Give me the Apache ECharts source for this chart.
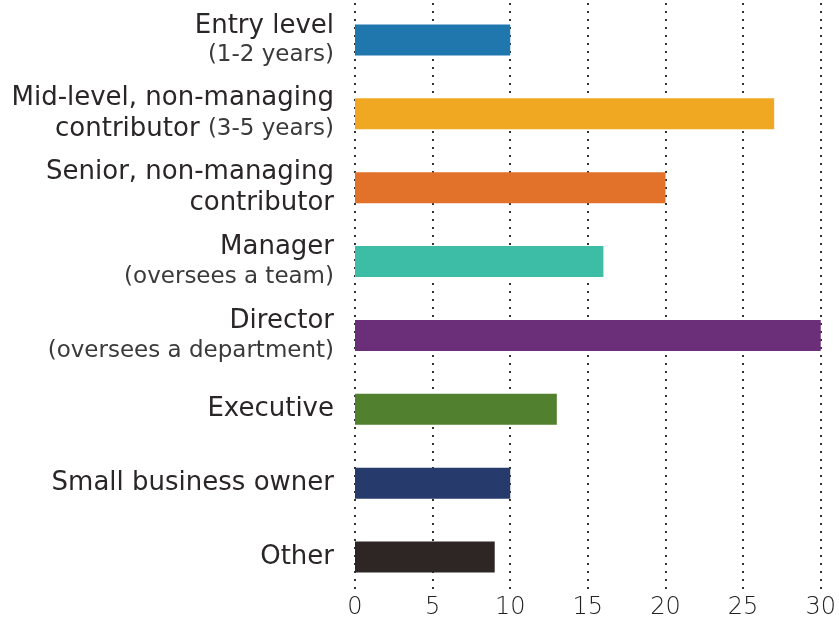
<!DOCTYPE html>
<html>
<head>
<meta charset="utf-8">
<script src="https://cdn.jsdelivr.net/npm/echarts@6/dist/echarts.min.js"></script>
<style>html,body{margin:0;padding:0;background:#fff;}#c{width:839px;height:620px;}</style>
</head>
<body>
<div id="c"></div>
<script>
const categories = [
  'Entry level\n(1-2 years)',
  'Mid-level, non-managing\ncontributor (3-5 years)',
  'Senior, non-managing\ncontributor',
  'Manager\n(oversees a team)',
  'Director\n(oversees a department)',
  'Executive',
  'Small business owner',
  'Other'
];
const values = [10, 27, 20, 16, 30, 13, 10, 9];
const colors = ['#1f77ae', '#f0a823', '#e2712a', '#3dbda6', '#6b2f79', '#51802f', '#263a6b', '#2e2624'];
const xTicks = [0, 5, 10, 15, 20, 25, 30];

function fmt(v) {
  return v.split('\n').map(line => {
    const parts = line.split(/(\([^)]*\))/).filter(p => p.length);
    return parts.map(p => p.startsWith('(') ? '{s|' + p + '}' : '{m|' + p + '}').join('');
  }).join('\n');
}

const chart = echarts.init(document.getElementById('c'));
chart.setOption({
  animation: false,
  grid: { left: 355, right: 14, top: 3, bottom: 23, containLabel: false },
  xAxis: {
    type: 'value', min: xTicks[0], max: xTicks[xTicks.length - 1], interval: 5,
    axisLine: { show: false }, axisTick: { show: false },
    axisLabel: { margin: 2, color: '#222', fontSize: 24, fontFamily: 'DejaVu Sans', fontWeight: 200 },
    splitLine: { show: true, lineStyle: { color: '#333', width: 2, type: [2, 6] } }
  },
  yAxis: {
    type: 'category', data: categories, inverse: true,
    axisLine: { show: false }, axisTick: { show: false },
    axisLabel: {
      margin: 21, formatter: fmt, align: 'right',
      rich: {
        m: { fontSize: 26, fontFamily: 'DejaVu Sans', color: '#2a2627', lineHeight: 31 },
        s: { fontSize: 23, fontFamily: 'DejaVu Sans', color: '#3a3a3a', lineHeight: 28 }
      }
    }
  },
  series: [{
    type: 'bar', barWidth: 31,
    data: values.map((v, i) => ({ value: v, itemStyle: { color: colors[i] } }))
  }]
});
</script>
</body>
</html>
